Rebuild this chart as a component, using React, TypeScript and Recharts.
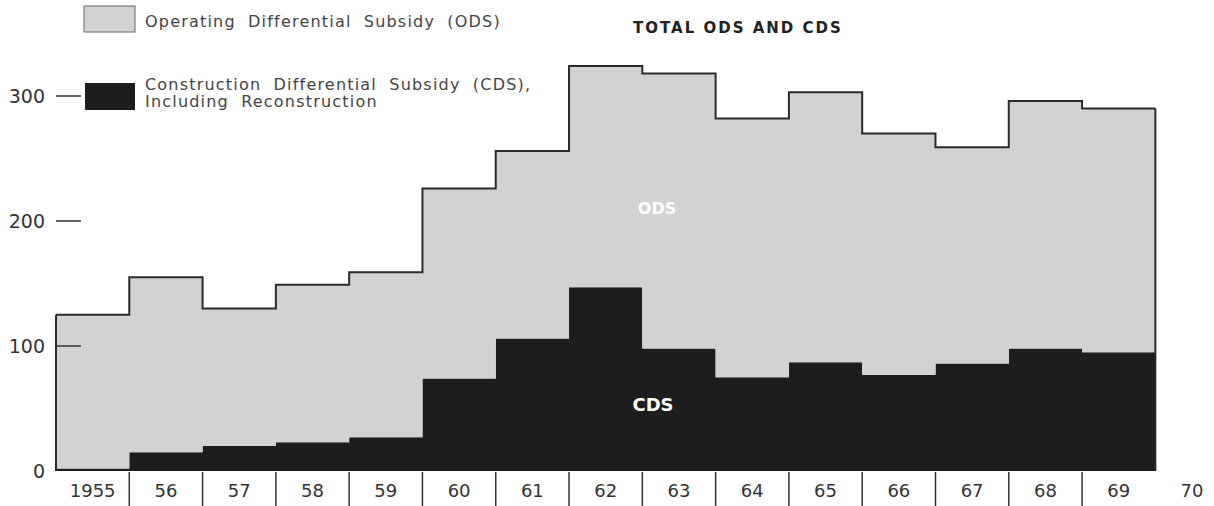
import { AreaChart, Area, XAxis, YAxis, ReferenceLine } from "recharts";

// Anos (cada degrau ocupa um ano inteiro)
const years = [1955, 1956, 1957, 1958, 1959, 1960, 1961, 1962, 1963, 1964, 1965, 1966, 1967, 1968, 1969];
// Construction Differential Subsidy (milhões de US$)
const cdsValues = [2, 15, 20, 23, 27, 74, 106, 147, 98, 75, 87, 77, 86, 98, 95];
// Operating Differential Subsidy (milhões de US$)
const odsValues = [123, 140, 110, 126, 132, 152, 150, 177, 220, 207, 216, 193, 173, 198, 195];
// Rótulos do eixo X, centrados em cada ano
const xLabels = ["1955", "56", "57", "58", "59", "60", "61", "62", "63", "64", "65", "66", "67", "68", "69", "70"];
const yTicks = [0, 100, 200, 300];

const W = 1214;
const H = 506;
const margin = { top: 21, right: 22, bottom: 0, left: 0 };
const Y_AXIS_W = 56;
const X_DOMAIN: [number, number] = [1955, 1970.5];

const FONT = "DejaVu Sans";
const GRAY = "#d2d2d2";
const DARK = "#1d1d1d";
const INK = "#333";

// tabela do gráfico: o último ponto fecha o degrau de 1969
const last = years.length - 1;
const data = [
  ...years.map((year, i) => ({ year, cds: cdsValues[i], ods: odsValues[i] })),
  { year: years[last] + 1, cds: cdsValues[last], ods: odsValues[last] },
];
const xTicks = xLabels.map((_, i) => years[0] + i + 0.5);

function XTick(props: any) {
  const { x, y, payload } = props;
  const i = Math.round(payload.value - 0.5 - years[0]);
  const plotW = W - margin.left - margin.right - Y_AXIS_W;
  const band = plotW / (X_DOMAIN[1] - X_DOMAIN[0]);
  const sep = i > 0 && i < years.length;
  return (
    <g>
      {sep && (
        <line x1={x - band / 2} x2={x - band / 2} y1={y + 1} y2={y + 35} stroke={INK} strokeWidth={1.5} />
      )}
      <text x={x} y={y + 26} textAnchor="middle" fontSize={18} fill={INK} fontFamily={FONT}>
        {xLabels[i]}
      </text>
    </g>
  );
}

function YTick(props: any) {
  const { x, y, payload } = props;
  return (
    <g>
      <text x={x} y={y} dy={7} textAnchor="end" fontSize={19} fill={INK} fontFamily={FONT}>
        {payload.value}
      </text>
      {payload.value > 0 && (
        <line x1={x + 11} x2={x + 36} y1={y} y2={y} stroke={INK} strokeWidth={1.5} />
      )}
    </g>
  );
}

export default function App() {
  const total0 = cdsValues[0] + odsValues[0];
  const totalN = cdsValues[last] + odsValues[last];
  const legendText = { fontSize: 16, fill: "#444", fontFamily: FONT, letterSpacing: 1.2, wordSpacing: 6 };
  return (
    <div style={{ position: "absolute", left: 0, top: 0, width: W, height: H }}>
      <AreaChart width={W} height={H} data={data} margin={margin}>
        <XAxis
          dataKey="year"
          type="number"
          domain={X_DOMAIN}
          ticks={xTicks}
          interval={0}
          axisLine={false}
          tickLine={false}
          tickSize={0}
          tickMargin={0}
          height={35}
          tick={<XTick />}
        />
        <YAxis
          domain={[0, 360]}
          ticks={yTicks}
          width={Y_AXIS_W}
          axisLine={false}
          tickLine={false}
          tickSize={0}
          tickMargin={11}
          tick={<YTick />}
        />
        <Area
          type="stepAfter"
          dataKey="cds"
          stackId="s"
          fill={DARK}
          fillOpacity={1}
          stroke="none"
          isAnimationActive={false}
        />
        <Area
          type="stepAfter"
          dataKey="ods"
          stackId="s"
          fill={GRAY}
          fillOpacity={1}
          stroke="#2a2a2a"
          strokeWidth={2}
          isAnimationActive={false}
        />
        <ReferenceLine segment={[{ x: years[0], y: 0 }, { x: years[0], y: total0 }]} stroke="#2a2a2a" strokeWidth={2} />
        <ReferenceLine
          segment={[{ x: years[last] + 1, y: 0 }, { x: years[last] + 1, y: totalN }]}
          stroke="#2a2a2a"
          strokeWidth={2}
        />
      </AreaChart>

      {/* legenda, título e rótulos por cima do gráfico */}
      <svg width={W} height={H} style={{ position: "absolute", left: 0, top: 0, pointerEvents: "none" }}>
        <rect x={84} y={6} width={51} height={26} fill={GRAY} stroke="#666" strokeWidth={1} />
        <text x={145} y={27} {...legendText}>
          Operating Differential Subsidy (ODS)
        </text>
        <rect x={85} y={83} width={50} height={27} fill={DARK} />
        <text x={145} y={90} {...legendText}>
          Construction Differential Subsidy (CDS),
        </text>
        <text x={145} y={107} {...legendText}>
          Including Reconstruction
        </text>
        <text x={633} y={33} fontSize={15} fontWeight="bold" fill="#222" fontFamily={FONT} letterSpacing={2}>
          TOTAL ODS AND CDS
        </text>
        <text x={657} y={214} textAnchor="middle" fontSize={16} fontWeight="bold" fill="#fff" fontFamily={FONT}>
          ODS
        </text>
        <text x={653} y={411} textAnchor="middle" fontSize={18} fontWeight="bold" fill="#fff" fontFamily={FONT}>
          CDS
        </text>
      </svg>
    </div>
  );
}
